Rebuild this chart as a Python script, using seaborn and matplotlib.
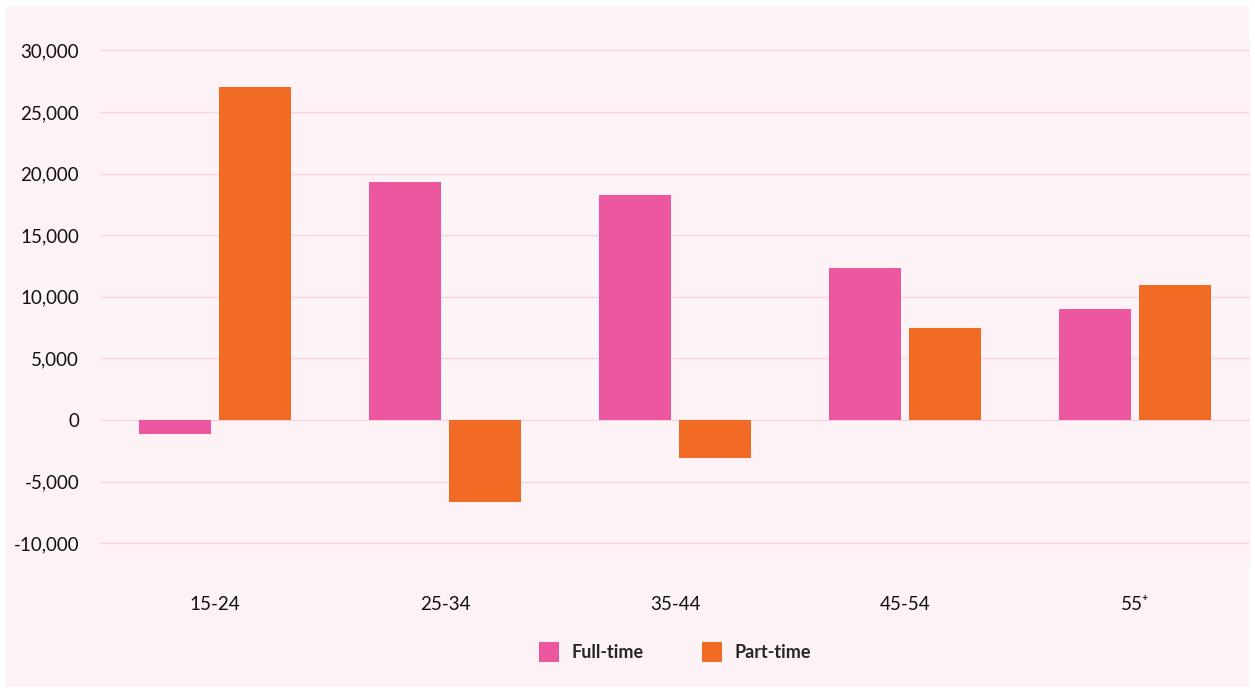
import pandas as pd
import matplotlib.pyplot as plt
import seaborn as sns
from matplotlib.patches import Rectangle
from matplotlib.ticker import FuncFormatter

# values
age_groups = ["15-24", "25-34", "35-44", "45-54", "55⁺"]
full_time = [-1100, 19300, 18250, 12330, 9000]
part_time = [27000, -6650, -3080, 7460, 10950]

df = pd.DataFrame({
    "age": age_groups * 2,
    "change": full_time + part_time,
    "type": ["Full-time"] * 5 + ["Part-time"] * 5,
})

sns.set_theme(style="white")
plt.rcParams['font.family'] = ['Lato', 'DejaVu Sans']

bg = "#fdf2f6"
fig = plt.figure(figsize=(12.55, 6.93), dpi=100, facecolor="white")
fig.patches.append(Rectangle((6 / 1255, 6 / 693), 1 - 12 / 1255, 1 - 12 / 693,
                             transform=fig.transFigure, facecolor=bg, edgecolor="none", zorder=-10))
ax = fig.add_axes([100 / 1255, 1 - 568 / 693, 1150 / 1255, 530 / 693])
ax.set_facecolor(bg)

sns.barplot(data=df, x="age", y="change", hue="type",
            palette={"Full-time": "#ec579f", "Part-time": "#f26b24"},
            width=0.70, gap=0.1, ax=ax, saturation=1, linewidth=0)

ax.set_xlim(-0.5, 4.5)
ax.set_ylim(-12000, 31000)
ax.set_yticks(range(-10000, 30001, 5000))
ax.yaxis.set_major_formatter(FuncFormatter(lambda v, p: f"{int(v):,}"))
ax.grid(axis="y", color="#f7d5e3", linewidth=1)
ax.set_axisbelow(True)
for s in ax.spines.values():
    s.set_visible(False)
ax.set_xlabel("")
ax.set_ylabel("")
ax.tick_params(axis="x", length=0, pad=20, labelsize=13.5, colors="#111111")
ax.tick_params(axis="y", length=0, pad=15, labelsize=13.5, colors="#111111")

leg = ax.legend(loc="center", bbox_to_anchor=(0.5, -0.158), ncol=2, frameon=False,
                handlelength=1.1, handleheight=1.3, handletextpad=0.7, columnspacing=3.2,
                prop={"weight": "bold", "size": 13})

fig.savefig("out.png", dpi=100, facecolor="white")
